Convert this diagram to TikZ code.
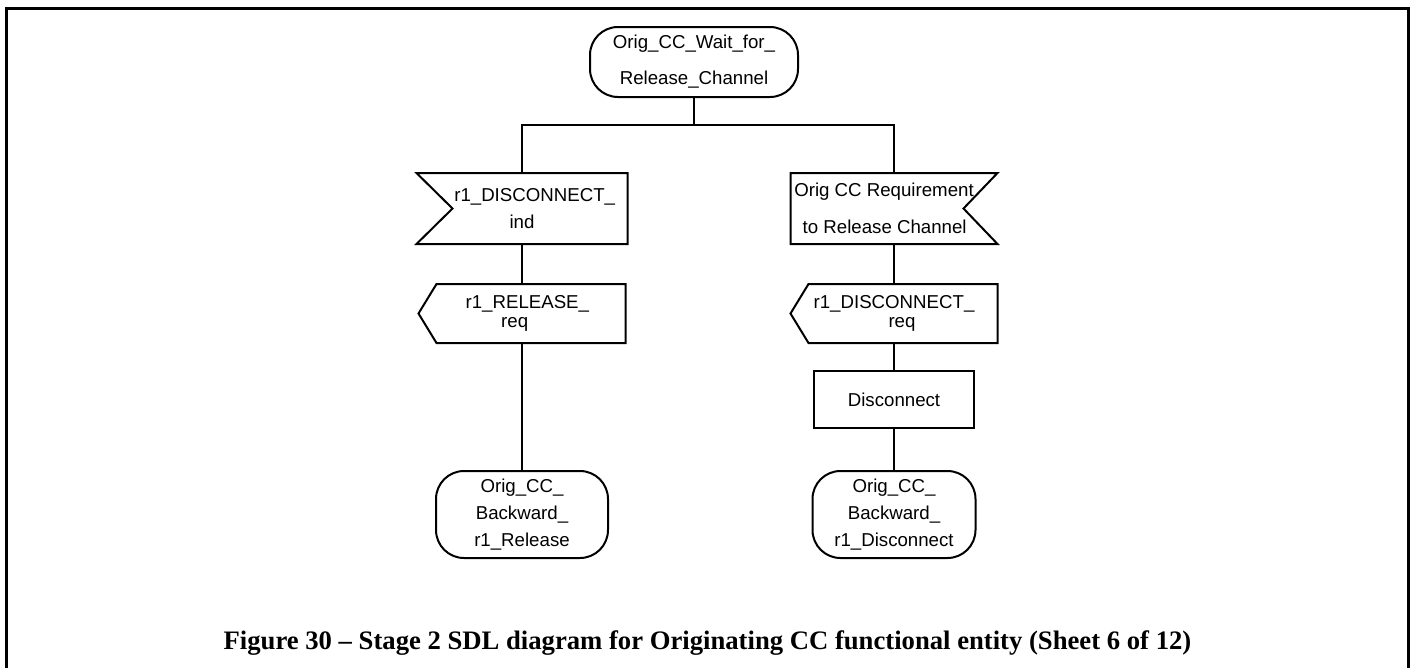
\documentclass[tikz,border=0pt]{standalone}
\usepackage{fontspec}
\setmainfont{Liberation Serif}
\newfontfamily\sdlfont{Liberation Sans}

\tikzset{
  sdl/.style={draw, line width=1.5pt, inner sep=0pt, align=center, font=\sdlfont\fontsize{14}{20}\selectfont},
  state/.style={sdl, rectangle, rounded corners=21pt},
  signalbox/.style={sdl, rectangle, draw=none},
  task/.style={sdl, rectangle},
  flow/.style={line width=1.5pt, line join=miter}
}

\begin{document}
\begin{tikzpicture}[x=0.75pt, y=-0.75pt]
	\useasboundingbox (0,0) rectangle (1410,668);
	\draw[line width=2.25pt] (6,668) -- (6,8) -- (1408,8) -- (1408,668);
	% states, signals and task
	\node[state, minimum width=156pt, minimum height=52.5pt, font=\sdlfont\fontsize{14}{27}\selectfont] (wait) at (694,62) {Orig\_CC\_Wait\_for\_\\Release\_Channel};
	\node[signalbox, minimum width=156.75pt, minimum height=51.75pt] (discind) at (522,208.5) {\hspace*{19pt}r1\_DISCONNECT\_\\ind};
	\node[signalbox, minimum width=153.75pt, minimum height=51.75pt, font=\sdlfont\fontsize{14}{27.75}\selectfont] (reqrel) at (894,208.5) {Orig CC Requirement\hspace*{15pt}\\to Release Channel\hspace*{14pt}};
	\node[signalbox, minimum width=153.75pt, minimum height=42.75pt, font=\sdlfont\fontsize{14}{14.5}\selectfont] (relreq) at (522,313.5) {\hspace*{8pt}r1\_RELEASE\_\\req\hspace*{11pt}};
	\node[signalbox, minimum width=153.75pt, minimum height=42.75pt, font=\sdlfont\fontsize{14}{14.5}\selectfont] (discreq) at (894,313.5) {r1\_DISCONNECT\_\\\hspace*{12pt}req};
	\node[task, minimum width=120pt, minimum height=42.75pt] (disc) at (894,399.5) {Disconnect};
	\node[state, minimum width=129pt, minimum height=65.25pt] (backrel) at (522,514.5) {Orig\_CC\_\\Backward\_\\r1\_Release};
	\node[state, minimum width=122.25pt, minimum height=65.25pt] (backdisc) at (894,514.5) {Orig\_CC\_\\Backward\_\\r1\_Disconnect};
	% signal outlines (input notch, output point)
	\draw[flow] (discind.north west) -- (discind.north east) -- (discind.south east) -- (discind.south west) -- ([xshift=27pt]discind.west) -- cycle;
	\draw[flow] (reqrel.north west) -- (reqrel.north east) -- ([xshift=-25.5pt]reqrel.east) -- (reqrel.south east) -- (reqrel.south west) -- cycle;
	\draw[flow] (relreq.west) -- ([xshift=13.5pt]relreq.north west) -- (relreq.north east) -- (relreq.south east) -- ([xshift=13.5pt]relreq.south west) -- cycle;
	\draw[flow] (discreq.west) -- ([xshift=13.5pt]discreq.north west) -- (discreq.north east) -- (discreq.south east) -- ([xshift=13.5pt]discreq.south west) -- cycle;
	% flow lines
	\coordinate (split) at (694,125);
	\draw[flow] (wait.south) -- (split);
	\draw[flow] (discind.north) |- (split) -| (reqrel.north);
	\draw[flow] (discind.south) -- (relreq.north);
	\draw[flow] (relreq.south) -- (backrel.north);
	\draw[flow] (reqrel.south) -- (discreq.north);
	\draw[flow] (discreq.south) -- (disc.north);
	\draw[flow] (disc.south) -- (backdisc.north);
	% caption
	\node[anchor=base, font=\bfseries\fontsize{20}{24}\selectfont] (caption) at (707.5,649) {Figure 30 \textendash{} Stage 2 SDL diagram for Originating CC functional entity (Sheet 6 of 12)};
\end{tikzpicture}
\end{document}
